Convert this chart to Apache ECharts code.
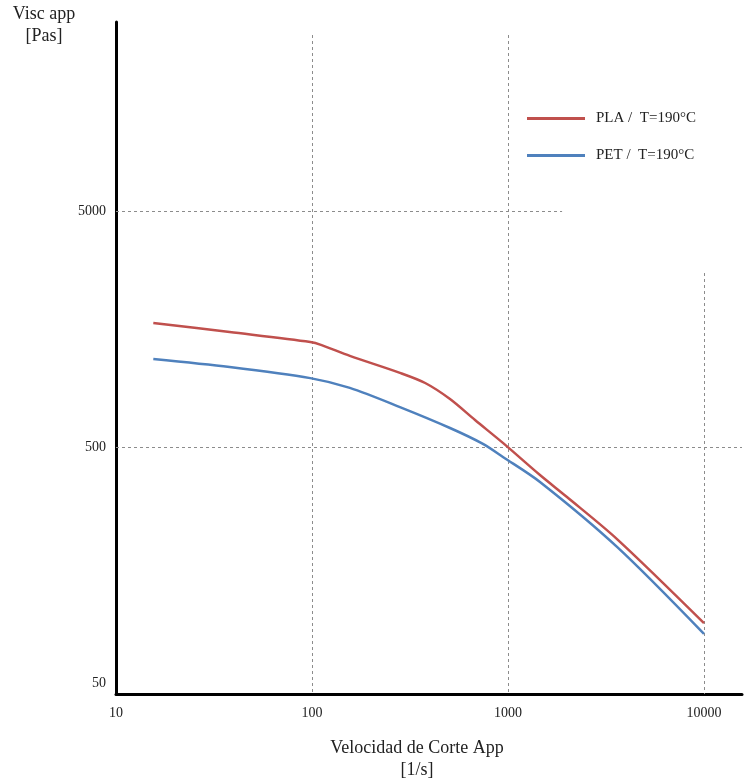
<!DOCTYPE html>
<html>
<head>
<meta charset="utf-8">
<script src="https://cdn.jsdelivr.net/npm/echarts@6/dist/echarts.min.js"></script>
<style>html,body{margin:0;padding:0;background:#fff;}#c{width:752px;height:782px;}</style>
</head>
<body>
<div id="c"></div>
<script>
// Data
const xTickLabels = [10, 100, 1000, 10000];
const yTickLabels = [50, 500, 5000];
const plaShear = [15.5, 38, 98, 112, 156, 281, 378, 506, 679, 942, 1456, 2000, 3600, 10000];
const plaVisc  = [1690, 1545, 1402, 1361, 1225, 1038, 940, 804, 655, 524, 383, 309, 205, 90.3];
const petShear = [15.5, 38, 98, 156, 281, 506, 745, 942, 1456, 3600, 10000];
const petVisc  = [1189, 1099, 986, 896, 743, 606, 519, 457, 358, 190, 81.3];
const seriesNames = ['PLA /  T=190°C', 'PET /  T=190°C'];

const X_MIN = 10, X_MAX = 15630, Y_MIN = 45.2, Y_MAX = 31850;
const FONT = 'Liberation Serif';
const gridStyle = { color: '#8c8c8c', width: 1, type: [3, 3] };

const chart = echarts.init(document.getElementById('c'), null, { renderer: 'canvas' });
const zip = (a, b) => a.map((v, i) => [v, b[i]]);

chart.setOption({
  animation: false,
  backgroundColor: '#fff',
  textStyle: { fontFamily: FONT },
  grid: { left: 116, top: 22, width: 626, height: 672, containLabel: false },
  xAxis: {
    type: 'log', logBase: 10, min: X_MIN, max: X_MAX,
    axisLine: { show: true, lineStyle: { color: '#000', width: 3 } },
    axisTick: { show: false },
    splitLine: { show: false },
    minorSplitLine: { show: false },
    axisLabel: { customValues: xTickLabels, formatter: v => String(Math.round(v)), color: '#222', fontSize: 14, fontFamily: FONT, margin: 12 }
  },
  yAxis: {
    type: 'log', logBase: 10, min: Y_MIN, max: Y_MAX,
    axisLine: { show: true, lineStyle: { color: '#000', width: 3 } },
    axisTick: { show: false },
    splitLine: { show: false },
    axisLabel: { customValues: yTickLabels, formatter: v => String(Math.round(v)), color: '#222', fontSize: 14, fontFamily: FONT, margin: 10 }
  },
  legend: {
    orient: 'vertical', left: 522, top: 106, itemGap: 22,
    icon: 'rect', itemWidth: 58, itemHeight: 3,
    textStyle: { fontFamily: FONT, fontSize: 15, color: '#222', padding: [0, 0, 0, 6] },
    data: seriesNames
  },
  graphic: [
    { type: 'text', x: 44, y: 3, style: { text: 'Visc app\n[Pas]', font: '18px "Liberation Serif"', fill: '#222', align: 'center', verticalAlign: 'top', lineHeight: 22 } },
    { type: 'text', x: 417, y: 737, style: { text: 'Velocidad de Corte App\n[1/s]', font: '18px "Liberation Serif"', fill: '#222', align: 'center', verticalAlign: 'top', lineHeight: 22 } }
  ],
  series: [
    {
      name: seriesNames[0], type: 'line', data: zip(plaShear, plaVisc),
      smooth: 0.3, showSymbol: false, symbol: 'none',
      lineStyle: { color: '#c0504d', width: 2.5 }, itemStyle: { color: '#c0504d' }, z: 5
    },
    {
      name: seriesNames[1], type: 'line', data: zip(petShear, petVisc),
      smooth: 0.3, showSymbol: false, symbol: 'none',
      lineStyle: { color: '#4f81bd', width: 2.5 }, itemStyle: { color: '#4f81bd' }, z: 5
    },
    {
      name: 'grid', type: 'line', data: [], z: 1,
      markLine: {
        silent: true, symbol: 'none', label: { show: false },
        lineStyle: gridStyle,
        data: [
          [{ coord: [100, 28050] }, { coord: [100, Y_MIN] }],
          [{ coord: [1000, 28050] }, { coord: [1000, Y_MIN] }],
          [{ coord: [10000, 2750] }, { coord: [10000, Y_MIN] }],
          [{ coord: [X_MIN, 5000] }, { coord: [1888, 5000] }],
          [{ coord: [X_MIN, 500] }, { coord: [X_MAX, 500] }]
        ]
      }
    }
  ]
});
</script>
</body>
</html>
